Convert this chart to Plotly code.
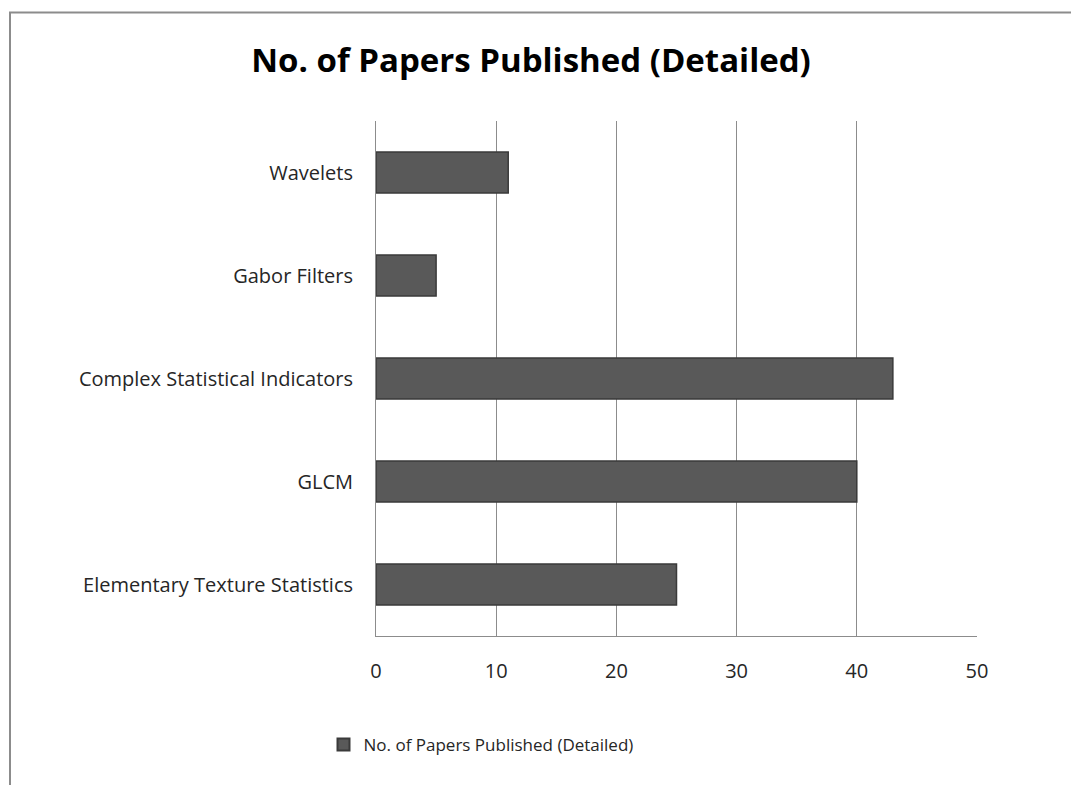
import plotly.graph_objects as go

categories = ["Elementary Texture Statistics", "GLCM", "Complex Statistical Indicators", "Gabor Filters", "Wavelets"]
values = [25, 40, 43, 5, 11]
series_name = "No. of Papers Published (Detailed)"
title_text = "No. of Papers Published (Detailed)"
x_ticks = [0, 10, 20, 30, 40, 50]

W, H = 1071, 785
L, R, T, B = 376, 94, 121, 149
pw, ph = W - L - R, H - T - B

fig = go.Figure()
fig.add_trace(go.Bar(
    y=categories, x=values, orientation="h", name=series_name,
    marker=dict(color="#595959", line=dict(color="#3a3a3a", width=1.5)),
    showlegend=True,
))

def px_x(p):
    return (p - L) / pw

def px_y(p):
    return 1 - (p - T) / ph

fig.update_layout(
    width=W, height=H,
    margin=dict(l=L, r=R, t=T, b=B),
    paper_bgcolor="white", plot_bgcolor="white",
    font=dict(family="Open Sans", color="#262626", size=17),
    title=dict(text="<b>" + title_text + "</b>", x=531 / W, xref="container", xanchor="center",
               y=1 - 60 / H, yanchor="middle", font=dict(size=33, color="black")),
    bargap=0.6,
    xaxis=dict(range=[0, 50], tickvals=x_ticks, showgrid=True, gridcolor="#8c8c8c", gridwidth=1,
               showline=True, linecolor="#8c8c8c", linewidth=1, zeroline=False, ticks="",
               ticklabelstandoff=17, tickfont=dict(size=20)),
    yaxis=dict(categoryorder="array", categoryarray=categories, showline=True, linecolor="#8c8c8c",
               linewidth=1, ticks="", showgrid=False, ticklabelstandoff=18, tickfont=dict(size=20)),
    legend=dict(orientation="h", x=481 / W, xanchor="center", xref="container",
                y=1 - 745 / H, yanchor="middle", yref="container", font=dict(size=17),
                itemsizing="constant"),
    shapes=[dict(type="rect", xref="paper", yref="paper",
                 x0=px_x(10), x1=px_x(1200), y0=px_y(900), y1=px_y(12.5),
                 line=dict(color="#8c8c8c", width=2), fillcolor="rgba(0,0,0,0)", layer="below")],
)

fig.write_html("out.html")
